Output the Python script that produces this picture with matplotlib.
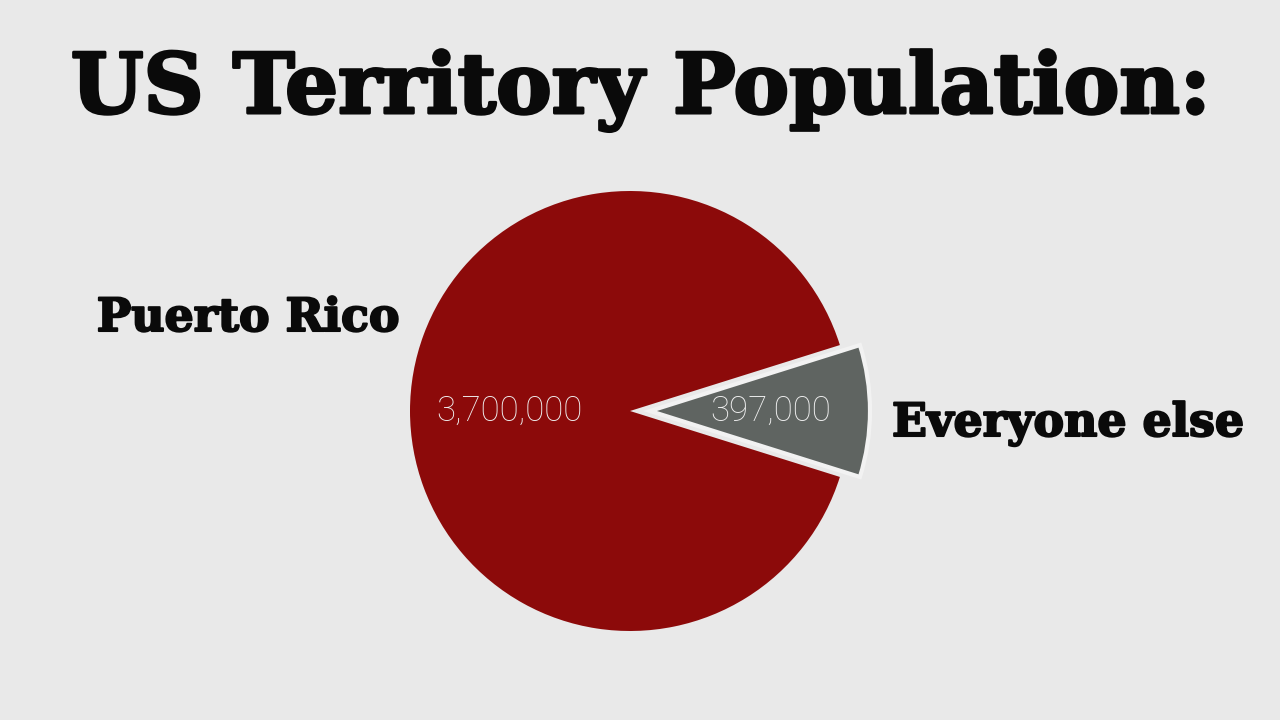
import matplotlib
matplotlib.use("Agg")
import matplotlib.pyplot as plt
import matplotlib.patheffects as pe

title = "US Territory Population:"
categories = ["Puerto Rico", "Everyone else"]
values = [3700000, 397000]
value_labels = ["3,700,000", "397,000"]
colors = ["#8c0a0a", "#5f6461"]

BG = "#e9e9e9"
W, H = 1280, 720
fig = plt.figure(figsize=(12.8, 7.2), dpi=100, facecolor=BG)
ax = fig.add_axes([0, 0, 1, 1])

total = sum(values)
startangle = -180 * values[1] / total  # "Everyone else" centred on 0 deg
wedges, texts, autotexts = ax.pie(
    values[::-1], colors=colors[::-1], center=(630, 309), radius=220,
    explode=[20, 0], startangle=startangle, counterclock=True,
    autopct=lambda p: "", pctdistance=0.55, frame=True)
ax.set_xlim(0, W)
ax.set_ylim(0, H)
ax.set_aspect("equal")
ax.axis("off")
wedges[0].set_edgecolor("#f2f2f2")
wedges[0].set_linewidth(3)
wedges[1].set_edgecolor("none")
for t, lab in zip(autotexts, value_labels[::-1]):
    t.set_text(lab)
    t.set_color("#f0f0f0")
    t.set_fontsize(25)
    t.set_fontfamily("Roboto")
    t.set_fontweight("light")

heavy = [pe.Stroke(linewidth=2.2, foreground="#0a0a0a"), pe.Normal()]
ax.text(641, 720 - 113, title, ha="center", va="baseline",
        fontsize=60, fontweight="heavy", family="DejaVu Serif", color="#0a0a0a",
        path_effects=heavy)
ax.text(400, 720 - 331, categories[0], ha="right", va="baseline",
        fontsize=33, fontweight="heavy", family="DejaVu Serif", color="#0a0a0a",
        path_effects=[pe.Stroke(linewidth=1.5, foreground="#0a0a0a"), pe.Normal()])
ax.text(892, 720 - 436, categories[1], ha="left", va="baseline",
        fontsize=33, fontweight="heavy", family="DejaVu Serif", color="#0a0a0a",
        path_effects=[pe.Stroke(linewidth=1.5, foreground="#0a0a0a"), pe.Normal()])

fig.savefig("out.png", dpi=100, facecolor=BG)
